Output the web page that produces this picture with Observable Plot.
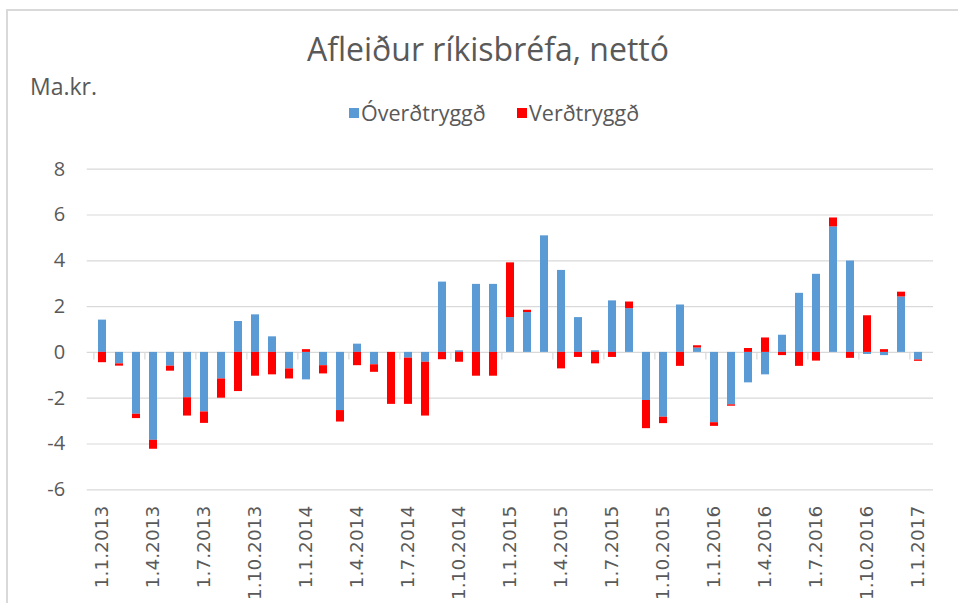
<!DOCTYPE html>
<html>
<head>
<meta charset="utf-8">
<script src="https://cdn.jsdelivr.net/npm/d3@7"></script>
<script src="https://cdn.jsdelivr.net/npm/@observablehq/plot@0.6"></script>
<style>
  html, body { margin: 0; padding: 0; background: #fff; }
  #wrap { position: relative; width: 958px; height: 603px; overflow: hidden; background: #fff; }
  #frame { position: absolute; left: 6px; top: 9px; width: 970px; height: 620px; border: 2px solid #d9d9d9; box-sizing: border-box; }
  #title { position: absolute; left: 0; width: 976px; top: 27px; text-align: center; font-family: "Open Sans", sans-serif; font-size: 32px; color: #595959; }
  #unit { position: absolute; left: 30px; top: 70px; font-family: "Open Sans", sans-serif; font-size: 23px; color: #595959; }
  #legend { position: absolute; top: 98px; left: 0; width: 100%; font-family: "Open Sans", sans-serif; font-size: 21.5px; color: #595959; }
  .sw { position: absolute; width: 10px; height: 10px; top: 10px; }
  .lt { position: absolute; top: 0; white-space: nowrap; }
  #chart { position: absolute; left: 0; top: 140px; }
</style>
</head>
<body>
<div id="wrap">
  <div id="frame"></div>
  <div id="title">Afleiður ríkisbréfa, nettó</div>
  <div id="unit">Ma.kr.</div>
  <div id="legend"></div>
  <div id="chart"></div>
</div>
<script>
const months = [];
for (let y = 2013; y <= 2017; y++) {
  for (let m = 1; m <= 12; m++) {
    if (y === 2017 && m > 1) break;
    months.push(`1.${m}.${y}`);
  }
}
const tickLabels = ["1.1.2013","1.4.2013","1.7.2013","1.10.2013","1.1.2014","1.4.2014","1.7.2014","1.10.2014","1.1.2015","1.4.2015","1.7.2015","1.10.2015","1.1.2016","1.4.2016","1.7.2016","1.10.2016","1.1.2017"];
const seriesNames = ["Óverðtryggð", "Verðtryggð"];
const seriesColors = ["#5B9BD5", "#FF0000"];
const yTicks = [-6, -4, -2, 0, 2, 4, 6, 8];

// Óverðtryggð (blue)
const overd = [
  1.41, -0.50, -2.70, -3.84, -0.60, -1.98, -2.60, -1.16, 1.35, 1.64, 0.68, -0.72,
  -1.20, -0.58, -2.54, 0.36, -0.54, 0.00, -0.25, -0.43, 3.07, 0.07, 2.97, 2.97,
  1.52, 1.74, 5.09, 3.58, 1.52, 0.07, 2.25, 1.91, -2.10, -2.83, 2.07, 0.19,
  -3.07, -2.29, -1.33, -0.98, 0.75, 2.58, 3.41, 5.48, 3.99, -0.09, -0.14, 2.42,
  -0.33
];
// Verðtryggð (red)
const verd = [
  -0.45, -0.10, -0.19, -0.39, -0.22, -0.80, -0.50, -0.84, -1.71, -1.04, -0.98, -0.44,
  0.12, -0.36, -0.50, -0.58, -0.33, -2.27, -2.02, -2.35, -0.32, -0.43, -1.04, -1.04,
  2.39, 0.10, 0.00, -0.72, -0.22, -0.50, -0.22, 0.29, -1.23, -0.28, -0.61, 0.10,
  -0.16, -0.06, 0.17, 0.63, -0.14, -0.61, -0.38, 0.39, -0.26, 1.60, 0.12, 0.21,
  -0.06
];

const rows = [];
months.forEach((m, i) => {
  rows.push({month: m, series: seriesNames[0], value: overd[i]});
  rows.push({month: m, series: seriesNames[1], value: verd[i]});
});

// legend
const legend = document.getElementById("legend");
const legendPos = [[349, 361], [517, 529]];
seriesNames.forEach((name, i) => {
  const sw = document.createElement("div");
  sw.className = "sw";
  sw.style.left = legendPos[i][0] + "px";
  sw.style.background = seriesColors[i];
  legend.appendChild(sw);
  const t = document.createElement("div");
  t.className = "lt";
  t.style.left = legendPos[i][1] + "px";
  t.textContent = name;
  legend.appendChild(t);
});

const W = 958, H = 463;
const mL = 86.7, mR = 25;
const step = (W - mL - mR) / months.length;
const zeroTickCats = months.filter((d, i) => i % 3 === 0);

const chart = Plot.plot({
  width: W,
  height: H,
  marginLeft: mL,
  marginRight: mR,
  marginTop: 28.7,
  marginBottom: 113.7,
  style: {background: "transparent", color: "#595959"},
  x: {domain: months, paddingInner: 0.55, paddingOuter: 0.275, align: 0.5, axis: null},
  y: {domain: [-6, 8], axis: null},
  color: {domain: seriesNames, range: seriesColors},
  marks: [
    Plot.gridY(yTicks, {stroke: "#d9d9d9", strokeOpacity: 1, strokeWidth: 1.2}),
    Plot.ruleX(zeroTickCats, {x: d => d, y1: 0, y2: -0.33, dx: -step / 2, stroke: "#d9d9d9", strokeWidth: 1.2}),
    Plot.barY(rows, {x: "month", y: "value", fill: "series"}),
    Plot.axisY(yTicks, {label: null, tickFormat: d => String(d), tickSize: 0, tickPadding: 22, fontSize: 20, fontFamily: "Open Sans", fill: "#595959"}),
    Plot.axisX(tickLabels, {label: null, tickSize: 0, tickRotate: -90, tickPadding: 16, fontSize: 18.5, fontFamily: "DejaVu Sans", fill: "#595959"})
  ]
});
document.getElementById("chart").appendChild(chart);
</script>
</body>
</html>
